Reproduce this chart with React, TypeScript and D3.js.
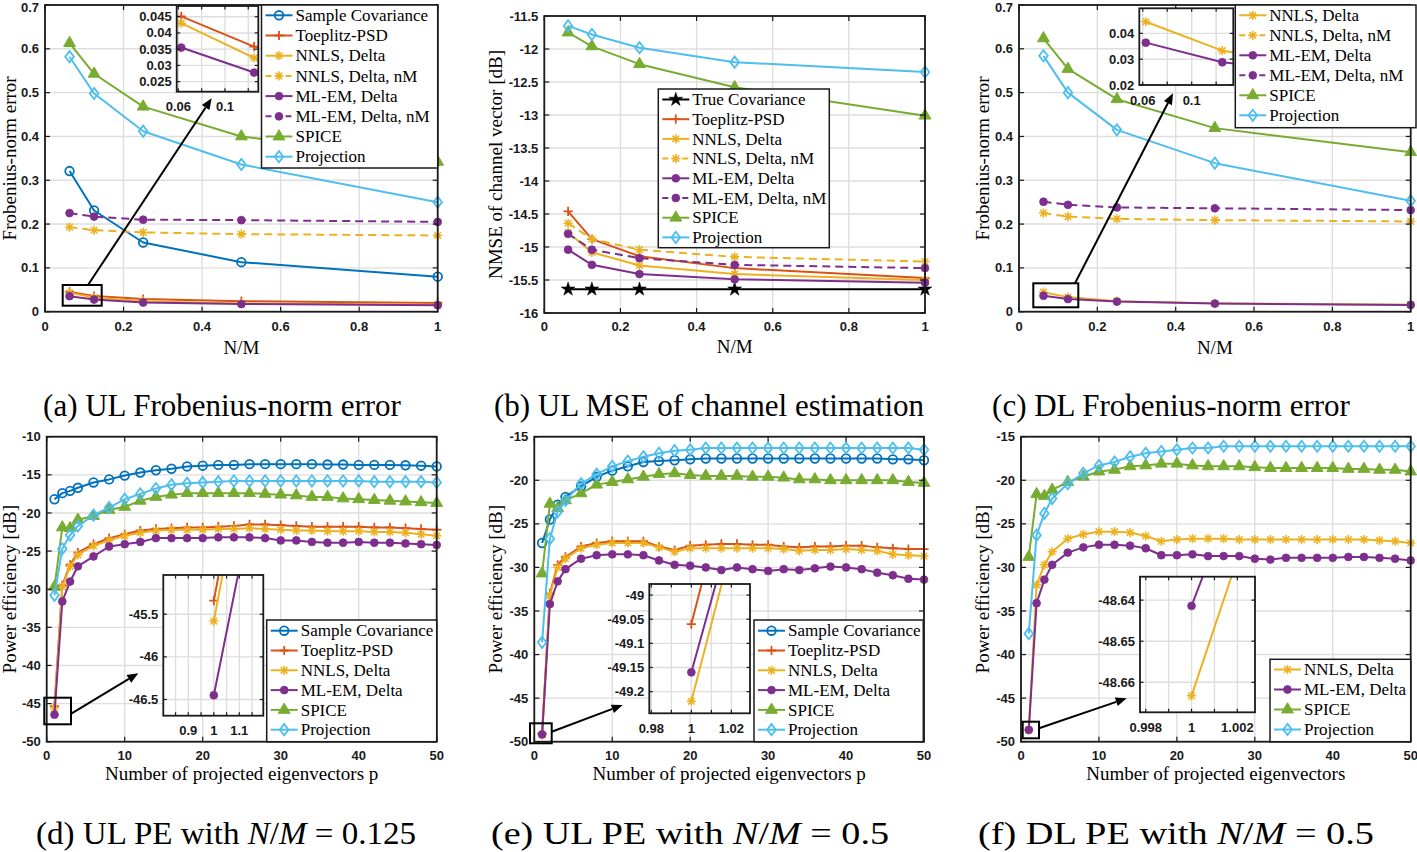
import React from 'react';
import * as d3 from 'd3';

// ---------------- DATA ----------------
const nmRatio = [0.0625, 0.125, 0.25, 0.5, 1];

// (a) UL Frobenius-norm error
const aSampleCov = [0.321, 0.231, 0.158, 0.113, 0.080];
const aToeplitz = [0.0451, 0.0358, 0.029, 0.024, 0.020];
const aNNLS = [0.043, 0.0323, 0.024, 0.019, 0.016];
const aNNLSnM = [0.193, 0.186, 0.181, 0.177, 0.174];
const aMLEM = [0.0355, 0.0278, 0.021, 0.0175, 0.0148];
const aMLEMnM = [0.225, 0.217, 0.210, 0.209, 0.205];
const aSPICE = [0.613, 0.543, 0.468, 0.400, 0.342];
const aProj = [0.582, 0.498, 0.412, 0.336, 0.250];

// (b) UL NMSE of channel vector [dB]
const bTrueCov = [-15.64, -15.64, -15.64, -15.64, -15.64];
const bToeplitz = [-14.46, -14.88, -15.14, -15.32, -15.47];
const bNNLS = [-14.78, -15.08, -15.28, -15.41, -15.5];
const bNNLSnM = [-14.64, -14.88, -15.04, -15.15, -15.22];
const bMLEM = [-15.04, -15.27, -15.41, -15.49, -15.54];
const bMLEMnM = [-14.8, -15.04, -15.17, -15.27, -15.32];
const bSPICE = [-11.75, -11.96, -12.23, -12.58, -13.01];
const bProj = [-11.65, -11.78, -11.98, -12.2, -12.35];

// (c) DL Frobenius-norm error
const cNNLS = [0.0445, 0.0333, 0.024, 0.019, 0.016];
const cNNLSnM = [0.225, 0.217, 0.212, 0.209, 0.206];
const cMLEM = [0.0364, 0.0288, 0.023, 0.0185, 0.0155];
const cMLEMnM = [0.251, 0.244, 0.238, 0.236, 0.232];
const cSPICE = [0.624, 0.554, 0.485, 0.419, 0.364];
const cProj = [0.584, 0.5, 0.415, 0.339, 0.253];

// number of projected eigenvectors
const eigCount = [1, 2, 3, 4, 6, 8, 10, 12, 14, 16, 18, 20, 22, 24, 26, 28, 30, 32, 34, 36, 38, 40, 42, 44, 46, 48, 50];

// (d) UL PE, N/M = 0.125
const dSampleCov = [-18.2, -17.4, -17.1, -16.7, -16.0, -15.6, -15.1, -14.7, -14.4, -14.2, -13.9, -13.8, -13.7, -13.7, -13.6, -13.6, -13.6, -13.6, -13.6, -13.65, -13.65, -13.7, -13.7, -13.7, -13.75, -13.8, -13.9];
const dToeplitz = [-45.34, -29.5, -26.8, -25.2, -24.1, -23.3, -22.8, -22.3, -22.1, -22.0, -21.9, -21.9, -21.8, -21.7, -21.5, -21.5, -21.6, -21.7, -21.8, -21.8, -21.8, -21.8, -21.9, -21.9, -22.0, -22.1, -22.2];
const dNNLS = [-45.58, -29.7, -27.0, -25.5, -24.3, -23.6, -23.0, -22.6, -22.3, -22.2, -22.2, -22.2, -22.1, -22.1, -22.0, -22.1, -22.2, -22.3, -22.3, -22.4, -22.4, -22.4, -22.5, -22.5, -22.6, -22.8, -23.0];
const dMLEM = [-46.45, -31.6, -29.0, -27.0, -25.7, -24.4, -24.1, -23.8, -23.3, -23.3, -23.3, -23.3, -23.2, -23.2, -23.2, -23.3, -23.6, -23.6, -23.8, -23.9, -23.9, -23.8, -23.9, -23.9, -24.0, -24.1, -24.2];
const dSPICE = [-29.7, -21.9, -22.0, -20.9, -20.4, -19.6, -19.2, -18.4, -17.9, -17.6, -17.4, -17.4, -17.4, -17.4, -17.4, -17.5, -17.6, -17.7, -17.9, -17.9, -18.1, -18.2, -18.3, -18.4, -18.5, -18.6, -18.7];
const dProj = [-30.8, -24.7, -22.9, -21.7, -20.3, -19.3, -18.2, -17.5, -16.8, -16.3, -16.1, -16.0, -15.9, -15.8, -15.8, -15.8, -15.8, -15.8, -15.8, -15.8, -15.8, -15.8, -15.9, -15.9, -15.9, -15.9, -16.0];

// (e) UL PE, N/M = 0.5
const eSampleCov = [-27.2, -24.5, -22.8, -21.9, -20.7, -19.6, -18.9, -18.4, -17.9, -17.8, -17.7, -17.6, -17.5, -17.5, -17.5, -17.5, -17.5, -17.5, -17.5, -17.5, -17.5, -17.5, -17.5, -17.5, -17.6, -17.6, -17.7];
const eToeplitz = [-49.06, -33.0, -29.7, -28.8, -27.6, -27.2, -27.0, -27.0, -27.0, -27.6, -28.0, -27.5, -27.4, -27.3, -27.3, -27.4, -27.4, -27.6, -27.7, -27.6, -27.6, -27.5, -27.5, -27.7, -27.8, -27.9, -27.9];
const eNNLS = [-49.22, -33.2, -30.0, -29.0, -27.8, -27.4, -27.2, -27.2, -27.2, -27.7, -28.2, -27.8, -27.8, -27.8, -27.8, -27.8, -27.8, -27.9, -28.1, -28.0, -28.0, -27.9, -28.0, -28.1, -28.5, -28.6, -28.7];
const eMLEM = [-49.16, -34.2, -31.6, -30.2, -29.0, -28.6, -28.5, -28.5, -28.6, -29.2, -29.7, -29.8, -30.0, -30.3, -30.0, -30.2, -30.4, -30.2, -30.3, -30.1, -29.9, -30.0, -30.2, -30.6, -30.9, -31.3, -31.4];
const eSPICE = [-30.7, -22.7, -23.2, -22.3, -21.5, -20.5, -20.2, -19.9, -19.6, -19.3, -19.2, -19.4, -19.5, -19.5, -19.5, -19.6, -19.6, -19.7, -19.9, -19.9, -20.0, -20.0, -20.0, -20.0, -20.0, -20.2, -20.3];
const eProj = [-38.6, -26.7, -23.6, -22.3, -20.4, -19.3, -18.4, -17.8, -17.3, -16.9, -16.6, -16.5, -16.3, -16.3, -16.3, -16.3, -16.3, -16.3, -16.3, -16.3, -16.3, -16.3, -16.3, -16.3, -16.3, -16.3, -16.5];

// (f) DL PE, N/M = 0.5
const fNNLS = [-48.6633, -32.0, -29.7, -28.2, -26.7, -26.2, -25.9, -25.9, -26.0, -26.4, -27.0, -26.8, -26.7, -26.7, -26.7, -26.8, -26.8, -26.8, -26.8, -26.8, -26.8, -26.8, -26.8, -26.8, -26.9, -27.0, -27.2];
const fMLEM = [-48.6414, -34.1, -31.4, -29.7, -28.3, -27.7, -27.4, -27.4, -27.5, -27.8, -28.6, -28.6, -28.5, -28.7, -28.7, -28.7, -29.0, -29.1, -28.9, -28.9, -28.9, -28.9, -28.8, -28.8, -28.9, -29.0, -29.2];
const fSPICE = [-28.8, -21.6, -21.8, -21.1, -20.2, -19.6, -19.0, -18.8, -18.4, -18.3, -18.1, -18.1, -18.3, -18.4, -18.4, -18.4, -18.5, -18.6, -18.6, -18.6, -18.6, -18.6, -18.7, -18.7, -18.8, -18.8, -19.0];
const fProj = [-37.6, -26.3, -23.8, -22.1, -20.4, -19.2, -18.3, -17.9, -17.3, -16.9, -16.7, -16.5, -16.3, -16.3, -16.1, -16.1, -16.1, -16.1, -16.1, -16.1, -16.1, -16.1, -16.1, -16.1, -16.1, -16.1, -16.1];

// ticks
const frobTicks = [0, 0.1, 0.2, 0.3, 0.4, 0.5, 0.6, 0.7];
const nmTicks = [0, 0.2, 0.4, 0.6, 0.8, 1];
const nmseTicks = [-16, -15.5, -15, -14.5, -14, -13.5, -13, -12.5, -12, -11.5];
const eigTicks = [0, 10, 20, 30, 40, 50];
const peTicksD = [-50, -45, -40, -35, -30, -25, -20, -15, -10];
const peTicksEF = [-50, -45, -40, -35, -30, -25, -20, -15];

// ---------------- STYLES ----------------
const STYLE: Record<string, { label: string; color: string; marker: string; dash?: string }> = {
  trueCov: { label: 'True Covariance', color: '#000000', marker: 'star' },
  sample: { label: 'Sample Covariance', color: '#0072BD', marker: 'circle' },
  toeplitz: { label: 'Toeplitz-PSD', color: '#D95319', marker: 'plus' },
  nnls: { label: 'NNLS, Delta', color: '#EDB120', marker: 'asterisk' },
  nnlsnM: { label: 'NNLS, Delta, nM', color: '#EDB120', marker: 'asterisk', dash: '8,5' },
  mlem: { label: 'ML-EM, Delta', color: '#7E2F8E', marker: 'dot' },
  mlemnM: { label: 'ML-EM, Delta, nM', color: '#7E2F8E', marker: 'dot', dash: '8,5' },
  spice: { label: 'SPICE', color: '#77AC30', marker: 'triangle' },
  proj: { label: 'Projection', color: '#4DBEEE', marker: 'diamond' },
};

const GRID = '#dedede';
const AXIS = '#1a1a1a';
const TICKFONT = "'Liberation Sans', Arial, Helvetica, sans-serif";
const SERIF = "'Liberation Serif', 'Times New Roman', Times, serif";

const fmt = (v: number) => String(+v.toFixed(6));

function Marker({ type, x, y, color }: { type: string; x: number; y: number; color: string }) {
  const sw = 1.8;
  switch (type) {
    case 'circle':
      return <circle cx={x} cy={y} r={4.3} fill="none" stroke={color} strokeWidth={sw} />;
    case 'dot':
      return <circle cx={x} cy={y} r={3.9} fill={color} stroke={color} strokeWidth={0.8} />;
    case 'plus':
      return <path d={`M${x - 4.6},${y}H${x + 4.6}M${x},${y - 4.6}V${y + 4.6}`} stroke={color} strokeWidth={sw} fill="none" />;
    case 'asterisk': {
      const a = 4.6, b = 3.3;
      return (
        <path
          d={`M${x - a},${y}H${x + a}M${x},${y - a}V${y + a}M${x - b},${y - b}L${x + b},${y + b}M${x - b},${y + b}L${x + b},${y - b}`}
          stroke={color} strokeWidth={1.5} fill="none" />
      );
    }
    case 'triangle':
      return <path transform={`translate(${x},${y})`} d={d3.symbol(d3.symbolTriangle, 60)() || ''} fill={color} stroke={color} strokeWidth={1} />;
    case 'diamond':
      return <path d={`M${x},${y - 5.6}L${x + 4.3},${y}L${x},${y + 5.6}L${x - 4.3},${y}Z`} fill="none" stroke={color} strokeWidth={sw} />;
    case 'star':
      return <path transform={`translate(${x},${y})`} d={d3.symbol(d3.symbolStar, 60)() || ''} fill={color} stroke={color} strokeWidth={0.5} />;
    default:
      return null;
  }
}

type Series = { key: string; xs: number[]; ys: number[] };
type Rect = { x0: number; x1: number; top: number; bottom: number };

function SeriesLayer({ series, xs, ys }: { series: Series[]; xs: d3.ScaleLinear<number, number>; ys: d3.ScaleLinear<number, number> }) {
  const line = d3.line<[number, number]>().x((d) => xs(d[0])).y((d) => ys(d[1]));
  return (
    <g>
      {series.map((s) => {
        const st = STYLE[s.key];
        const pts: [number, number][] = s.xs.map((x, i) => [x, s.ys[i]]);
        return (
          <g key={s.key}>
            <path d={line(pts) || ''} fill="none" stroke={st.color} strokeWidth={2} strokeDasharray={st.dash} strokeLinejoin="round" />
            {pts.map((p, i) => (
              <Marker key={i} type={st.marker} x={xs(p[0])} y={ys(p[1])} color={st.color} />
            ))}
          </g>
        );
      })}
    </g>
  );
}

function AxesFrame({ r, xs, ys, xGrid, yGrid }: any) {
  return (
    <g>
      {xGrid.map((t: number) => (
        <line key={'gx' + t} x1={xs(t)} x2={xs(t)} y1={r.top} y2={r.bottom} stroke={GRID} strokeWidth={1.4} />
      ))}
      {yGrid.map((t: number) => (
        <line key={'gy' + t} y1={ys(t)} y2={ys(t)} x1={r.x0} x2={r.x1} stroke={GRID} strokeWidth={1.4} />
      ))}
    </g>
  );
}

function AxesBox({ r, xs, ys, xGrid, yGrid, xLabels, yLabels, tick, fontSize, xLabOff, yLabOff }: any) {
  return (
    <g>
      <rect x={r.x0} y={r.top} width={r.x1 - r.x0} height={r.bottom - r.top} fill="none" stroke={AXIS} strokeWidth={1.8} />
      {xGrid.map((t: number) => (
        <g key={'tx' + t}>
          <line x1={xs(t)} x2={xs(t)} y1={r.bottom} y2={r.bottom - tick} stroke={AXIS} strokeWidth={1.2} />
          <line x1={xs(t)} x2={xs(t)} y1={r.top} y2={r.top + tick} stroke={AXIS} strokeWidth={1.2} />
        </g>
      ))}
      {yGrid.map((t: number) => (
        <g key={'ty' + t}>
          <line y1={ys(t)} y2={ys(t)} x1={r.x0} x2={r.x0 + tick} stroke={AXIS} strokeWidth={1.2} />
          <line y1={ys(t)} y2={ys(t)} x1={r.x1} x2={r.x1 - tick} stroke={AXIS} strokeWidth={1.2} />
        </g>
      ))}
      {xLabels.map((t: number) => (
        <text key={'lx' + t} x={xs(t)} y={r.bottom + xLabOff} textAnchor="middle" dy="0.35em" fontFamily={TICKFONT} fontWeight="bold" fontSize={fontSize} fill={AXIS}>
          {fmt(t)}
        </text>
      ))}
      {yLabels.map((t: number) => (
        <text key={'ly' + t} x={r.x0 - yLabOff} y={Math.max(ys(t), 7)} textAnchor="end" dy="0.35em" fontFamily={TICKFONT} fontWeight="bold" fontSize={fontSize} fill={AXIS}>
          {fmt(t)}
        </text>
      ))}
    </g>
  );
}

function Legend({ x, y, w, h, firstY, rowH, keys }: any) {
  return (
    <g>
      <rect x={x} y={y} width={w} height={h} fill="#ffffff" stroke={AXIS} strokeWidth={1.5} />
      {keys.map((k: string, i: number) => {
        const st = STYLE[k];
        const cy = firstY + i * rowH;
        return (
          <g key={k}>
            <line x1={x + 4} x2={x + 31} y1={cy} y2={cy} stroke={st.color} strokeWidth={2} strokeDasharray={st.dash ? '6,4' : undefined} />
            <Marker type={st.marker} x={x + 17.5} y={cy} color={st.color} />
            <text x={x + 34} y={cy} dy="0.33em" fontFamily={SERIF} fontSize={17} fill="#000">
              {st.label}
            </text>
          </g>
        );
      })}
    </g>
  );
}

function Inset({ cfg, series, id }: any) {
  const r: Rect = cfg.rect;
  const xs = d3.scaleLinear().domain(cfg.xDomain).range([r.x0, r.x1]);
  const ys = d3.scaleLinear().domain(cfg.yDomain).range([r.bottom, r.top]);
  const p = { r, xs, ys, xGrid: cfg.xGrid, yGrid: cfg.yGrid, xLabels: cfg.xLabels, yLabels: cfg.yLabels, tick: 3.5, fontSize: 13, xLabOff: 15, yLabOff: 5 };
  return (
    <g>
      <rect x={r.x0} y={r.top} width={r.x1 - r.x0} height={r.bottom - r.top} fill="#ffffff" />
      <AxesFrame {...p} />
      <clipPath id={id}>
        <rect x={r.x0} y={r.top} width={r.x1 - r.x0} height={r.bottom - r.top} />
      </clipPath>
      <g clipPath={`url(#${id})`}>
        <SeriesLayer series={series} xs={xs} ys={ys} />
      </g>
      <AxesBox {...p} />
    </g>
  );
}

function Arrow({ from, to }: { from: [number, number]; to: [number, number] }) {
  const [x1, y1] = from;
  const [x2, y2] = to;
  const ang = Math.atan2(y2 - y1, x2 - x1);
  const L = 11, W = 4.5;
  const bx = x2 - L * Math.cos(ang), by = y2 - L * Math.sin(ang);
  const px = -Math.sin(ang) * W, py = Math.cos(ang) * W;
  return (
    <g>
      <line x1={x1} y1={y1} x2={bx} y2={by} stroke="#000" strokeWidth={2} />
      <path d={`M${x2},${y2}L${bx + px},${by + py}L${bx - px},${by - py}Z`} fill="#000" />
    </g>
  );
}

function Panel({ cfg, id }: any) {
  const r: Rect = cfg.rect;
  const xs = d3.scaleLinear().domain(cfg.xDomain).range([r.x0, r.x1]);
  const ys = d3.scaleLinear().domain(cfg.yDomain).range([r.bottom, r.top]);
  const p = { r, xs, ys, xGrid: cfg.xTicks, yGrid: cfg.yTicks, xLabels: cfg.xTicks, yLabels: cfg.yTicks, tick: 5, fontSize: 13, xLabOff: cfg.xTickOff, yLabOff: 6 };
  const cy = (r.top + r.bottom) / 2;
  return (
    <g>
      <rect x={r.x0} y={r.top} width={r.x1 - r.x0} height={r.bottom - r.top} fill="#ffffff" />
      <AxesFrame {...p} />
      <SeriesLayer series={cfg.series} xs={xs} ys={ys} />
      <AxesBox {...p} />
      <text x={(r.x0 + r.x1) / 2} y={r.bottom + cfg.xLabelOff} textAnchor="middle" dy="0.35em" fontFamily={SERIF} fontSize={19} fill="#000">
        {cfg.xLabel}
      </text>
      <text transform={`translate(${cfg.yLabelX},${cy}) rotate(-90)`} textAnchor="middle" dy="0.35em" fontFamily={SERIF} fontSize={19} fill="#000">
        {cfg.yLabel}
      </text>
      <Legend {...cfg.legend} />
      {cfg.inset && <Inset cfg={cfg.inset} series={cfg.series} id={id + '-clip'} />}
      {cfg.zoomBox && (
        <rect x={cfg.zoomBox.x0} y={cfg.zoomBox.top} width={cfg.zoomBox.x1 - cfg.zoomBox.x0} height={cfg.zoomBox.bottom - cfg.zoomBox.top} fill="none" stroke="#000" strokeWidth={2} />
      )}
      {cfg.arrow && <Arrow from={cfg.arrow.from} to={cfg.arrow.to} />}
    </g>
  );
}

const mk = (keys: string[], xs: number[], arrs: number[][]): Series[] => keys.map((k, i) => ({ key: k, xs, ys: arrs[i] }));

const panelA = {
  rect: { x0: 45, x1: 437.7, top: 5, bottom: 311.7 },
  xDomain: [0, 1], yDomain: [0, 0.7], xTicks: nmTicks, yTicks: frobTicks,
  xTickOff: 15, xLabelOff: 36, xLabel: 'N/M', yLabel: 'Frobenius-norm error', yLabelX: 9,
  series: mk(['sample', 'toeplitz', 'nnls', 'nnlsnM', 'mlem', 'mlemnM', 'spice', 'proj'], nmRatio,
    [aSampleCov, aToeplitz, aNNLS, aNNLSnM, aMLEM, aMLEMnM, aSPICE, aProj]),
  legend: { x: 261.5, y: 5, w: 176.2, h: 163, firstY: 15.3, rowH: 20.2, keys: ['sample', 'toeplitz', 'nnls', 'nnlsnM', 'mlem', 'mlemnM', 'spice', 'proj'] },
  inset: {
    rect: { x0: 176.7, x1: 258.3, top: 6, bottom: 91.7 },
    xDomain: [0.0586, 0.1286], yDomain: [0.0219, 0.0483],
    xGrid: [0.06, 0.08, 0.1, 0.12], xLabels: [0.06, 0.1],
    yGrid: [0.025, 0.03, 0.035, 0.04, 0.045], yLabels: [0.025, 0.03, 0.035, 0.04, 0.045],
  },
  zoomBox: { x0: 62.7, x1: 101.7, top: 285, bottom: 305.7 },
  arrow: { from: [88, 285], to: [211.7, 98.3] },
};

const panelB = {
  rect: { x0: 544.3, x1: 925, top: 16, bottom: 313 },
  xDomain: [0, 1], yDomain: [-16, -11.5], xTicks: nmTicks, yTicks: nmseTicks,
  xTickOff: 13, xLabelOff: 33, xLabel: 'N/M', yLabel: 'NMSE of channel vector [dB]', yLabelX: 495,
  series: mk(['trueCov', 'toeplitz', 'nnls', 'nnlsnM', 'mlem', 'mlemnM', 'spice', 'proj'], nmRatio,
    [bTrueCov, bToeplitz, bNNLS, bNNLSnM, bMLEM, bMLEMnM, bSPICE, bProj]),
  legend: { x: 658.3, y: 89, w: 171, h: 158.7, firstY: 99.5, rowH: 19.7, keys: ['trueCov', 'toeplitz', 'nnls', 'nnlsnM', 'mlem', 'mlemnM', 'spice', 'proj'] },
};

const panelC = {
  rect: { x0: 1019, x1: 1410.7, top: 5, bottom: 311.7 },
  xDomain: [0, 1], yDomain: [0, 0.7], xTicks: nmTicks, yTicks: frobTicks,
  xTickOff: 15, xLabelOff: 36, xLabel: 'N/M', yLabel: 'Frobenius-norm error', yLabelX: 982,
  series: mk(['nnls', 'nnlsnM', 'mlem', 'mlemnM', 'spice', 'proj'], nmRatio,
    [cNNLS, cNNLSnM, cMLEM, cMLEMnM, cSPICE, cProj]),
  legend: { x: 1235.3, y: 5, w: 180.7, h: 122.7, firstY: 15.3, rowH: 20, keys: ['nnls', 'nnlsnM', 'mlem', 'mlemnM', 'spice', 'proj'] },
  inset: {
    rect: { x0: 1139.3, x1: 1233.3, top: 8.3, bottom: 85 },
    xDomain: [0.0572, 0.134], yDomain: [0.02, 0.0497],
    xGrid: [0.06, 0.08, 0.1, 0.12], xLabels: [0.06, 0.1],
    yGrid: [0.02, 0.03, 0.04], yLabels: [0.02, 0.03, 0.04],
  },
  zoomBox: { x0: 1033.3, x1: 1078.3, top: 283.3, bottom: 307.3 },
  arrow: { from: [1075, 283.3], to: [1173, 93.3] },
};

const peKeys = ['sample', 'toeplitz', 'nnls', 'mlem', 'spice', 'proj'];

const panelD = {
  rect: { x0: 46.7, x1: 436.7, top: 436.7, bottom: 741.7 },
  xDomain: [0, 50], yDomain: [-50, -10], xTicks: eigTicks, yTicks: peTicksD,
  xTickOff: 14, xLabelOff: 32, xLabel: 'Number of projected eigenvectors p', yLabel: 'Power efficiency [dB]', yLabelX: 9,
  series: mk(peKeys, eigCount, [dSampleCov, dToeplitz, dNNLS, dMLEM, dSPICE, dProj]),
  legend: { x: 266.7, y: 620, w: 170, h: 121.7, firstY: 630.7, rowH: 19.8, keys: peKeys },
  inset: {
    rect: { x0: 163.3, x1: 263.3, top: 575, bottom: 715.7 },
    xDomain: [0.802, 1.194], yDomain: [-46.69, -45.04],
    xGrid: [0.85, 0.9, 0.95, 1, 1.05, 1.1, 1.15], xLabels: [0.9, 1, 1.1],
    yGrid: [-46.5, -46, -45.5], yLabels: [-46.5, -46, -45.5],
  },
  zoomBox: { x0: 44.3, x1: 71, top: 697.7, bottom: 724.3 },
  arrow: { from: [71.7, 713.3], to: [138.3, 673.3] },
};

const panelE = {
  rect: { x0: 534.3, x1: 924, top: 436.7, bottom: 741.7 },
  xDomain: [0, 50], yDomain: [-50, -15], xTicks: eigTicks, yTicks: peTicksEF,
  xTickOff: 14, xLabelOff: 32, xLabel: 'Number of projected eigenvectors p', yLabel: 'Power efficiency [dB]', yLabelX: 495,
  series: mk(peKeys, eigCount, [eSampleCov, eToeplitz, eNNLS, eMLEM, eSPICE, eProj]),
  legend: { x: 754, y: 620, w: 169.3, h: 121.7, firstY: 630.7, rowH: 19.8, keys: peKeys },
  inset: {
    rect: { x0: 649.3, x1: 750, top: 584, bottom: 713.3 },
    xDomain: [0.979, 1.0293], yDomain: [-49.245, -48.977],
    xGrid: [0.98, 0.99, 1, 1.01, 1.02], xLabels: [0.98, 1, 1.02],
    yGrid: [-49.2, -49.15, -49.1, -49.05, -49], yLabels: [-49.2, -49.15, -49.1, -49.05, -49],
  },
  zoomBox: { x0: 530, x1: 551.7, top: 723.3, bottom: 743.3 },
  arrow: { from: [551.7, 731.7], to: [622.7, 705] },
};

const fKeys = ['nnls', 'mlem', 'spice', 'proj'];

const panelF = {
  rect: { x0: 1021, x1: 1410.7, top: 436.7, bottom: 741.7 },
  xDomain: [0, 50], yDomain: [-50, -15], xTicks: eigTicks, yTicks: peTicksEF,
  xTickOff: 14, xLabelOff: 32, xLabel: 'Number of projected eigenvectors', yLabel: 'Power efficiency [dB]', yLabelX: 982,
  series: mk(fKeys, eigCount, [fNNLS, fMLEM, fSPICE, fProj]),
  legend: { x: 1270, y: 659.3, w: 140.7, h: 82.4, firstY: 669.5, rowH: 20, keys: fKeys },
  inset: {
    rect: { x0: 1140, x1: 1255, top: 576.7, bottom: 712.3 },
    xDomain: [0.99775, 1.00277], yDomain: [-48.6673, -48.6343],
    xGrid: [0.998, 0.999, 1, 1.001, 1.002], xLabels: [0.998, 1, 1.002],
    yGrid: [-48.66, -48.65, -48.64], yLabels: [-48.66, -48.65, -48.64],
  },
  zoomBox: { x0: 1022.7, x1: 1039, top: 721.7, bottom: 738.3 },
  arrow: { from: [1039, 728.3], to: [1126.7, 698.3] },
};

function Caption({ x, y, parts, len }: { x: number; y: number; parts: [string, boolean][]; len?: number }) {
  return (
    <text x={x} y={y} textAnchor="middle" dy="0.35em" fontFamily={SERIF} fontSize={31} fill="#000"
      textLength={len} lengthAdjust={len ? 'spacingAndGlyphs' : undefined}>
      {parts.map((p, i) => (
        <tspan key={i} fontStyle={p[1] ? 'italic' : 'normal'}>{p[0]}</tspan>
      ))}
    </text>
  );
}

export default function App() {
  return (
    <svg width={1417} height={852} viewBox="0 0 1417 852" style={{ position: 'absolute', left: 0, top: 0, background: '#ffffff' }}>
      <rect x={0} y={0} width={1417} height={852} fill="#ffffff" />
      <Panel cfg={panelA} id="pa" />
      <Panel cfg={panelB} id="pb" />
      <Panel cfg={panelC} id="pc" />
      <Panel cfg={panelD} id="pd" />
      <Panel cfg={panelE} id="pe" />
      <Panel cfg={panelF} id="pf" />
      <Caption x={222} y={405} parts={[['(a) UL Frobenius-norm error', false]]} />
      <Caption x={709} y={405} parts={[['(b) UL MSE of channel estimation', false]]} />
      <Caption x={1171} y={405} parts={[['(c) DL Frobenius-norm error', false]]} />
      <Caption x={226} y={833} len={380} parts={[['(d) UL PE with ', false], ['N', true], ['/', false], ['M', true], [' = 0.125', false]]} />
      <Caption x={690} y={833} len={398} parts={[['(e) UL PE with ', false], ['N', true], ['/', false], ['M', true], [' = 0.5', false]]} />
      <Caption x={1176} y={833} len={396} parts={[['(f) DL PE with ', false], ['N', true], ['/', false], ['M', true], [' = 0.5', false]]} />
    </svg>
  );
}
